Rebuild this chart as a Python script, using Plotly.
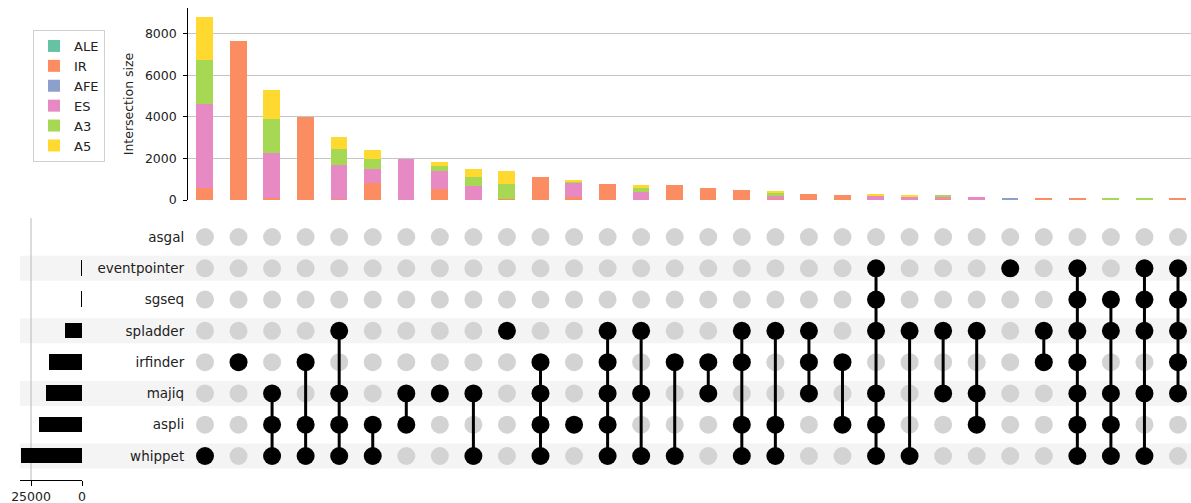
import plotly.graph_objects as go

# ---------------- data ----------------
sets = ["asgal", "eventpointer", "sgseq", "spladder", "irfinder", "majiq", "aspli", "whippet"]

# membership of each intersection column (left to right)
intersections = [
    ["whippet"],
    ["irfinder"],
    ["majiq", "aspli", "whippet"],
    ["irfinder", "aspli", "whippet"],
    ["spladder", "majiq", "aspli", "whippet"],
    ["aspli", "whippet"],
    ["majiq", "aspli"],
    ["majiq"],
    ["majiq", "whippet"],
    ["spladder"],
    ["irfinder", "majiq", "aspli", "whippet"],
    ["aspli"],
    ["spladder", "irfinder", "majiq", "aspli", "whippet"],
    ["spladder", "majiq", "whippet"],
    ["irfinder", "whippet"],
    ["irfinder", "majiq"],
    ["spladder", "irfinder", "aspli", "whippet"],
    ["spladder", "aspli", "whippet"],
    ["spladder", "irfinder", "majiq"],
    ["irfinder", "aspli"],
    ["eventpointer", "sgseq", "spladder", "majiq", "aspli", "whippet"],
    ["spladder", "whippet"],
    ["spladder", "majiq"],
    ["spladder", "majiq", "aspli"],
    ["eventpointer"],
    ["spladder", "irfinder"],
    ["eventpointer", "sgseq", "spladder", "irfinder", "majiq", "aspli", "whippet"],
    ["sgseq", "spladder", "majiq", "aspli", "whippet"],
    ["eventpointer", "sgseq", "spladder", "majiq", "whippet"],
    ["eventpointer", "sgseq", "spladder", "irfinder", "majiq"],
]

event_types = ["ALE", "IR", "AFE", "ES", "A3", "A5"]
ALE = [0, 0, 0, 0, 0, 0, 0, 0, 0, 0, 0, 0, 0, 0, 0, 0, 0, 0, 0, 0, 0, 0, 0, 0, 40, 0, 0, 0, 0, 0]
IR = [600, 7650, 80, 4000, 30, 800, 0, 510, 0, 40, 1090, 130, 770, 0, 700, 560, 480, 50, 290, 240,
      0, 0, 40, 0, 0, 100, 50, 0, 0, 50]
AFE = [0, 0, 0, 0, 0, 0, 0, 0, 0, 0, 0, 0, 0, 0, 0, 0, 0, 0, 0, 0, 0, 0, 0, 0, 40, 0, 0, 0, 0, 0]
ES = [4030, 0, 2180, 0, 1670, 700, 1970, 870, 670, 0, 0, 690, 0, 370, 0, 0, 0, 175, 0, 0,
      220, 150, 120, 160, 0, 0, 0, 0, 0, 0]
A3 = [2130, 0, 1660, 0, 760, 470, 0, 240, 430, 730, 0, 60, 0, 190, 0, 0, 0, 95, 0, 0,
      0, 0, 50, 0, 0, 0, 0, 50, 50, 0]
A5 = [2040, 0, 1380, 0, 580, 430, 0, 220, 370, 610, 0, 80, 0, 140, 0, 0, 0, 100, 0, 0,
      35, 60, 0, 0, 0, 0, 0, 0, 0, 0]
series = {"ALE": ALE, "IR": IR, "AFE": AFE, "ES": ES, "A3": A3, "A5": A5}
colors = {"ALE": "#66c2a5", "IR": "#fc8d62", "AFE": "#8da0cb",
          "ES": "#e78ac3", "A3": "#a6d854", "A5": "#ffd92f"}

y_ticks = [0, 2000, 4000, 6000, 8000]
size_ticks = [0, 25000]
size_tick_labels = ["0", "25000"]

# ---------------- derived ----------------
n = len(intersections)
cols = list(range(n))
ypos = {s: len(sets) - 1 - i for i, s in enumerate(sets)}
totals = [sum(series[t][i] for t in event_types) for i in cols]
set_sizes = [sum(totals[i] for i in cols if s in intersections[i]) for s in sets]

W, H = 1191, 503
def px_x(p): return p / W
def px_y(p): return (H - p) / H

fig = go.Figure()

# stacked intersection bars
for t in event_types:
    fig.add_trace(go.Bar(x=cols, y=series[t], name=t, marker=dict(color=colors[t], line=dict(width=0)),
                         width=0.5, xaxis="x", yaxis="y"))

# set size bars
fig.add_trace(go.Bar(x=set_sizes, y=[ypos[s] for s in sets], orientation="h", width=0.5,
                     marker=dict(color="black", line=dict(width=0)), showlegend=False,
                     xaxis="x2", yaxis="y2"))

# matrix
gx, gy, bx, by, lx, ly = [], [], [], [], [], []
for i, mem in enumerate(intersections):
    for s in sets:
        if s in mem:
            bx.append(i); by.append(ypos[s])
        else:
            gx.append(i); gy.append(ypos[s])
    ys = [ypos[s] for s in mem]
    if len(ys) > 1:
        lx += [i, i, None]; ly += [min(ys), max(ys), None]

fig.add_trace(go.Scatter(x=gx, y=gy, mode="markers", marker=dict(color="#d3d3d3", size=18),
                         showlegend=False, xaxis="x3", yaxis="y3", hoverinfo="skip"))
fig.add_trace(go.Scatter(x=lx, y=ly, mode="lines", line=dict(color="black", width=3),
                         showlegend=False, xaxis="x3", yaxis="y3", hoverinfo="skip"))
fig.add_trace(go.Scatter(x=bx, y=by, mode="markers", marker=dict(color="black", size=18),
                         showlegend=False, xaxis="x3", yaxis="y3"))

# shading stripes
shapes = []
for s in sets[1::2]:
    shapes.append(dict(type="rect", xref="paper", yref="y3", x0=px_x(20), x1=1,
                       y0=ypos[s] - 0.4, y1=ypos[s] + 0.4, fillcolor="#f4f4f4",
                       line=dict(width=0), layer="below"))
# gridline on set-size axis
shapes.append(dict(type="line", xref="x2", yref="paper", x0=25000, x1=25000,
                   y0=px_y(480), y1=px_y(218), line=dict(color="#b8b8b8", width=1), layer="below"))

x_left = 188.2
spacing = 33.552
x_range = [-0.5, (W - 205) / spacing]
mat_dom = [px_y(456 + 15.65), px_y(237 - 15.65)]

font = dict(family="DejaVu Sans", size=12.5, color="#222222")

fig.update_layout(
    width=W, height=H, margin=dict(l=0, r=0, t=0, b=0, autoexpand=False),
    paper_bgcolor="white", plot_bgcolor="rgba(0,0,0,0)",
    barmode="stack", bargap=0, font=font, shapes=shapes,
    xaxis=dict(domain=[px_x(x_left), 1], range=x_range, showticklabels=False, showgrid=False,
               zeroline=False, showline=False, ticks="", anchor="y", automargin=False),
    yaxis=dict(domain=[px_y(200), px_y(8)], range=[0, 9240], tickvals=y_ticks,
               showline=True, linecolor="black", linewidth=1, ticks="outside", ticklen=4,
               tickcolor="black", showgrid=True, gridcolor="#c4c4c4", gridwidth=1.2,
               zeroline=False, anchor="x", automargin=False, ticklabelstandoff=4,
               title=dict(text="Intersection size", font=dict(size=12.5, color="#222222"), standoff=8)),
    xaxis2=dict(domain=[px_x(20), px_x(82)], range=[30390, 0], tickvals=size_ticks,
                ticktext=size_tick_labels, anchor="free", position=px_y(480), showline=True,
                linecolor="black", ticks="outside", ticklen=5, tickcolor="black",
                showgrid=False, zeroline=False, automargin=False),
    yaxis2=dict(domain=mat_dom, range=[-0.5, 7.5], anchor="x2", showticklabels=False,
                showgrid=False, zeroline=False, showline=False, ticks="", automargin=False),
    xaxis3=dict(domain=[px_x(x_left), 1], range=x_range, matches="x", showticklabels=False,
                showgrid=False, zeroline=False, showline=False, ticks="", anchor="y3",
                automargin=False),
    yaxis3=dict(domain=mat_dom, range=[-0.5, 7.5], anchor="x3", tickvals=[ypos[s] for s in sets],
                ticktext=sets, showgrid=False, zeroline=False, showline=False, ticks="",
                ticklabelstandoff=3, tickfont=dict(size=13.5, color="#222222"), automargin=False),
    legend=dict(x=px_x(33), y=px_y(30), xanchor="left", yanchor="top", traceorder="normal",
                bordercolor="#d0d0d0", borderwidth=1, bgcolor="white",
                font=dict(size=13, color="#222222"), itemwidth=30),
)

fig.write_html("out.html")
